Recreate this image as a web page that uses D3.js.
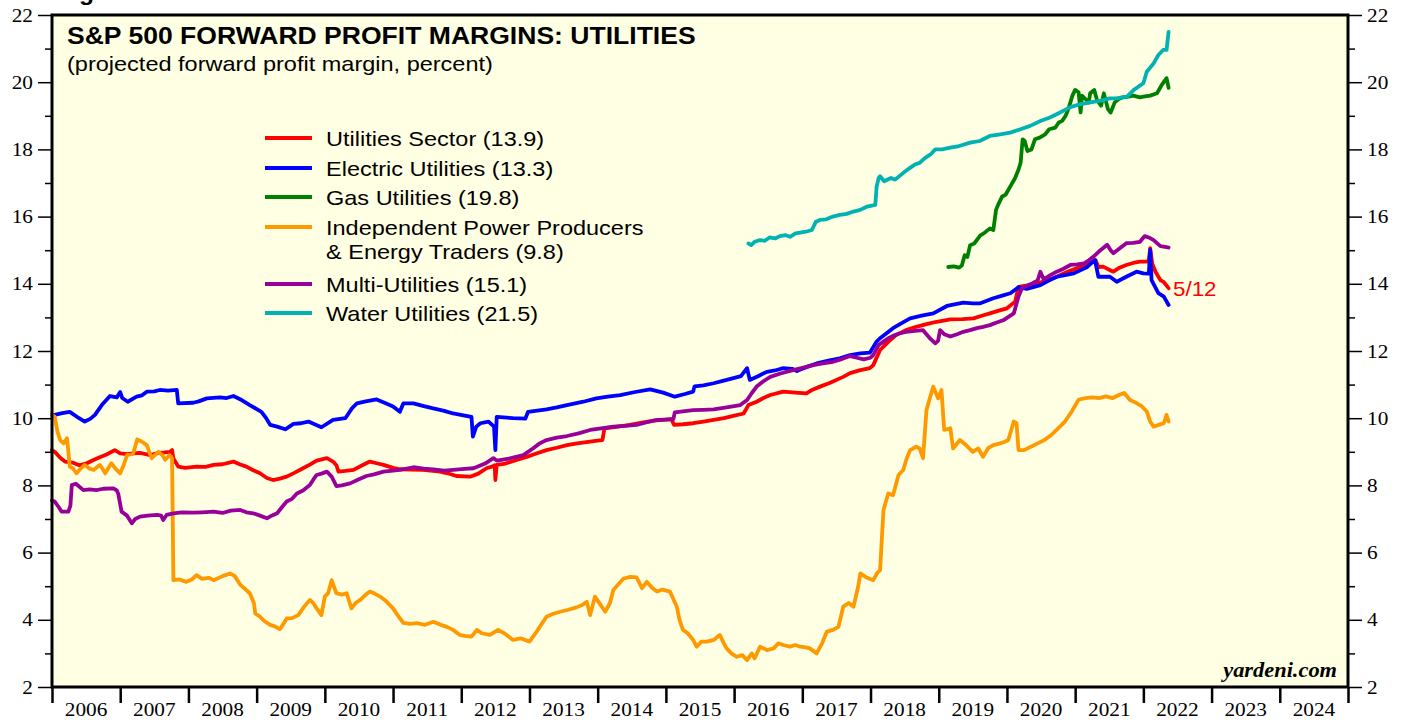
<!DOCTYPE html>
<html>
<head>
<meta charset="utf-8">
<script src="https://cdn.jsdelivr.net/npm/d3@7"></script>
<style>
  body { margin: 0; background: #fff; }
  svg { display: block; }
</style>
</head>
<body>
<div id="chart"></div>
<script>
// values, [decimal year, percent]
const utilitiesSector = [[2006.00,9.05],[2006.04,9.0],[2006.12,8.82],[2006.19,8.71],[2006.3,8.68],[2006.4,8.6],[2006.51,8.66],[2006.6,8.75],[2006.70,8.84],[2006.8,8.92],[2006.92,9.05],[2007.0,8.95],[2007.1,8.93],[2007.2,8.95],[2007.29,8.97],[2007.44,8.9],[2007.55,8.96],[2007.65,8.98],[2007.73,9.0],[2007.76,9.05],[2007.78,8.8],[2007.85,8.56],[2007.95,8.52],[2008.12,8.56],[2008.25,8.55],[2008.37,8.61],[2008.5,8.63],[2008.66,8.71],[2008.75,8.63],[2008.85,8.56],[2008.95,8.45],[2009.05,8.36],[2009.15,8.22],[2009.24,8.16],[2009.34,8.2],[2009.44,8.26],[2009.56,8.38],[2009.68,8.51],[2009.78,8.62],[2009.88,8.74],[2010.03,8.81],[2010.12,8.71],[2010.17,8.6],[2010.2,8.41],[2010.3,8.43],[2010.42,8.46],[2010.55,8.6],[2010.66,8.71],[2010.76,8.66],[2010.86,8.61],[2011.0,8.52],[2011.1,8.48],[2011.25,8.47],[2011.44,8.46],[2011.55,8.44],[2011.69,8.41],[2011.8,8.36],[2011.93,8.28],[2012.13,8.26],[2012.25,8.35],[2012.37,8.51],[2012.45,8.56],[2012.49,8.6],[2012.5,8.16],[2012.52,8.61],[2012.65,8.65],[2012.8,8.75],[2012.96,8.85],[2013.1,8.95],[2013.25,9.05],[2013.4,9.12],[2013.55,9.2],[2013.7,9.25],[2013.89,9.3],[2014.0,9.33],[2014.07,9.35],[2014.1,9.7],[2014.3,9.75],[2014.47,9.8],[2014.65,9.87],[2014.82,9.93],[2015.08,9.97],[2015.12,9.8],[2015.25,9.82],[2015.4,9.85],[2015.55,9.9],[2015.7,9.95],[2015.85,10.0],[2015.99,10.07],[2016.14,10.14],[2016.21,10.39],[2016.33,10.49],[2016.43,10.6],[2016.53,10.69],[2016.72,10.79],[2016.9,10.76],[2017.06,10.74],[2017.15,10.85],[2017.26,10.94],[2017.4,11.05],[2017.6,11.23],[2017.7,11.34],[2017.85,11.43],[2017.99,11.49],[2018.04,11.58],[2018.14,12.03],[2018.19,12.13],[2018.29,12.33],[2018.38,12.48],[2018.52,12.62],[2018.67,12.72],[2018.82,12.8],[2018.97,12.87],[2019.17,12.94],[2019.35,12.95],[2019.51,12.97],[2019.63,13.05],[2019.75,13.12],[2019.88,13.2],[2020.0,13.27],[2020.12,13.47],[2020.17,13.91],[2020.3,13.95],[2020.44,14.01],[2020.58,14.1],[2020.73,14.21],[2020.88,14.35],[2021.02,14.46],[2021.12,14.55],[2021.22,14.61],[2021.3,14.7],[2021.34,14.5],[2021.41,14.51],[2021.5,14.42],[2021.56,14.36],[2021.65,14.48],[2021.75,14.56],[2021.85,14.62],[2021.95,14.66],[2022.05,14.66],[2022.08,14.7],[2022.1,15.06],[2022.13,14.6],[2022.18,14.35],[2022.25,14.11],[2022.3,14.05],[2022.37,13.87]];

const electricUtilities = [[2006.0,10.1],[2006.04,10.1],[2006.15,10.15],[2006.26,10.19],[2006.36,10.05],[2006.48,9.9],[2006.56,9.98],[2006.63,10.1],[2006.73,10.39],[2006.85,10.66],[2006.95,10.62],[2007.0,10.78],[2007.03,10.6],[2007.11,10.49],[2007.24,10.64],[2007.32,10.68],[2007.39,10.79],[2007.5,10.8],[2007.58,10.84],[2007.7,10.82],[2007.83,10.84],[2007.85,10.44],[2008.07,10.46],[2008.15,10.5],[2008.27,10.59],[2008.46,10.62],[2008.56,10.6],[2008.66,10.66],[2008.78,10.54],[2008.9,10.39],[2009.07,10.19],[2009.14,10.0],[2009.2,9.8],[2009.3,9.75],[2009.42,9.67],[2009.54,9.83],[2009.65,9.85],[2009.76,9.9],[2009.85,9.82],[2009.95,9.73],[2010.12,9.95],[2010.3,10.0],[2010.4,10.3],[2010.47,10.44],[2010.6,10.5],[2010.76,10.56],[2010.9,10.44],[2011.0,10.35],[2011.1,10.19],[2011.15,10.44],[2011.3,10.44],[2011.45,10.36],[2011.59,10.29],[2011.75,10.22],[2011.88,10.14],[2012.05,10.08],[2012.15,10.04],[2012.17,9.45],[2012.22,9.75],[2012.28,9.85],[2012.4,9.9],[2012.48,9.75],[2012.5,9.05],[2012.52,10.04],[2012.57,10.03],[2012.76,10.0],[2012.94,9.99],[2012.98,10.19],[2013.25,10.26],[2013.4,10.32],[2013.55,10.39],[2013.79,10.49],[2013.98,10.59],[2014.15,10.64],[2014.33,10.69],[2014.55,10.78],[2014.77,10.86],[2014.96,10.76],[2015.13,10.64],[2015.28,10.72],[2015.4,10.79],[2015.42,10.95],[2015.55,10.98],[2015.7,11.04],[2015.85,11.12],[2015.99,11.19],[2016.1,11.25],[2016.19,11.49],[2016.23,11.14],[2016.35,11.25],[2016.48,11.38],[2016.6,11.42],[2016.72,11.49],[2016.85,11.47],[2016.92,11.4],[2016.97,11.45],[2017.1,11.55],[2017.21,11.63],[2017.4,11.72],[2017.55,11.78],[2017.7,11.88],[2017.85,11.93],[2017.99,11.95],[2018.09,12.28],[2018.14,12.38],[2018.33,12.68],[2018.45,12.82],[2018.58,12.97],[2018.75,13.05],[2018.92,13.12],[2019.12,13.34],[2019.36,13.44],[2019.5,13.42],[2019.61,13.42],[2019.8,13.57],[2019.92,13.64],[2020.05,13.72],[2020.17,13.9],[2020.29,13.85],[2020.49,13.96],[2020.6,14.08],[2020.73,14.21],[2020.85,14.26],[2020.98,14.31],[2021.17,14.49],[2021.29,14.71],[2021.34,14.21],[2021.51,14.21],[2021.61,14.06],[2021.75,14.21],[2021.9,14.36],[2022.0,14.31],[2022.08,14.3],[2022.1,15.01],[2022.12,14.11],[2022.22,13.72],[2022.3,13.62],[2022.37,13.37]];

const gasUtilities = [[2019.14,14.5],[2019.22,14.52],[2019.3,14.48],[2019.34,14.55],[2019.38,14.85],[2019.42,14.8],[2019.46,15.15],[2019.52,15.2],[2019.61,15.44],[2019.66,15.5],[2019.75,15.65],[2019.8,15.6],[2019.84,16.2],[2019.87,16.35],[2019.93,16.6],[2019.98,16.65],[2020.05,16.9],[2020.12,17.15],[2020.17,17.4],[2020.2,17.6],[2020.23,18.3],[2020.26,18.25],[2020.3,17.95],[2020.36,18.0],[2020.41,18.3],[2020.48,18.35],[2020.56,18.45],[2020.62,18.6],[2020.71,18.65],[2020.76,18.8],[2020.81,18.85],[2020.86,19.0],[2020.9,19.2],[2020.96,19.6],[2021.0,19.77],[2021.05,19.7],[2021.08,19.1],[2021.1,19.6],[2021.15,19.5],[2021.2,19.4],[2021.22,19.67],[2021.28,19.77],[2021.32,19.47],[2021.38,19.3],[2021.42,19.67],[2021.48,19.2],[2021.52,19.1],[2021.58,19.4],[2021.64,19.5],[2021.7,19.55],[2021.78,19.57],[2021.85,19.6],[2021.95,19.55],[2022.0,19.57],[2022.1,19.6],[2022.2,19.67],[2022.27,19.92],[2022.34,20.12],[2022.37,19.83]];

const powerProducers = [[2006.0,10.1],[2006.04,10.04],[2006.08,9.6],[2006.12,9.35],[2006.17,9.25],[2006.22,9.4],[2006.24,9.0],[2006.26,8.56],[2006.31,8.5],[2006.36,8.36],[2006.42,8.5],[2006.48,8.61],[2006.55,8.5],[2006.61,8.46],[2006.7,8.61],[2006.74,8.5],[2006.78,8.36],[2006.87,8.66],[2006.93,8.5],[2007.0,8.36],[2007.05,8.6],[2007.1,8.9],[2007.19,8.95],[2007.25,9.37],[2007.32,9.3],[2007.39,9.2],[2007.46,8.81],[2007.56,9.0],[2007.62,8.9],[2007.66,8.76],[2007.72,8.9],[2007.75,8.85],[2007.76,8.8],[2007.78,5.18],[2007.87,5.2],[2007.97,5.13],[2008.05,5.2],[2008.12,5.33],[2008.2,5.22],[2008.3,5.25],[2008.37,5.18],[2008.5,5.3],[2008.61,5.38],[2008.68,5.3],[2008.76,5.04],[2008.84,4.9],[2008.9,4.79],[2008.96,4.5],[2008.98,4.19],[2009.05,4.09],[2009.12,3.95],[2009.2,3.85],[2009.27,3.8],[2009.34,3.72],[2009.4,3.9],[2009.44,4.04],[2009.52,4.05],[2009.61,4.14],[2009.7,4.4],[2009.78,4.59],[2009.83,4.5],[2009.88,4.34],[2009.95,4.14],[2010.0,4.69],[2010.05,4.8],[2010.1,5.18],[2010.14,4.95],[2010.17,4.79],[2010.25,4.75],[2010.32,4.79],[2010.39,4.34],[2010.45,4.5],[2010.52,4.59],[2010.6,4.75],[2010.66,4.84],[2010.73,4.78],[2010.81,4.69],[2010.9,4.55],[2011.0,4.34],[2011.08,4.1],[2011.15,3.91],[2011.25,3.88],[2011.35,3.9],[2011.47,3.85],[2011.59,3.94],[2011.7,3.85],[2011.79,3.79],[2011.88,3.7],[2011.98,3.55],[2012.05,3.52],[2012.15,3.5],[2012.23,3.7],[2012.3,3.6],[2012.42,3.55],[2012.54,3.7],[2012.63,3.6],[2012.76,3.4],[2012.87,3.45],[2013.0,3.35],[2013.09,3.6],[2013.17,3.85],[2013.25,4.09],[2013.35,4.18],[2013.45,4.24],[2013.57,4.3],[2013.69,4.37],[2013.78,4.45],[2013.84,4.54],[2013.89,4.14],[2013.96,4.69],[2014.04,4.45],[2014.11,4.24],[2014.18,4.5],[2014.23,4.89],[2014.3,5.05],[2014.38,5.23],[2014.48,5.28],[2014.57,5.26],[2014.65,4.94],[2014.72,5.13],[2014.8,4.95],[2014.87,4.84],[2014.95,4.9],[2015.06,4.84],[2015.16,4.39],[2015.2,4.0],[2015.25,3.7],[2015.32,3.6],[2015.4,3.4],[2015.45,3.2],[2015.52,3.35],[2015.6,3.35],[2015.7,3.4],[2015.79,3.55],[2015.85,3.3],[2015.89,3.15],[2015.96,3.0],[2016.04,2.9],[2016.12,2.95],[2016.19,2.8],[2016.26,3.0],[2016.3,2.85],[2016.38,3.2],[2016.48,3.1],[2016.58,3.15],[2016.65,3.3],[2016.72,3.25],[2016.82,3.2],[2016.9,3.25],[2016.97,3.2],[2017.05,3.18],[2017.11,3.15],[2017.21,3.0],[2017.29,3.3],[2017.36,3.65],[2017.45,3.7],[2017.53,3.79],[2017.6,4.39],[2017.68,4.5],[2017.75,4.39],[2017.82,5.0],[2017.85,5.38],[2017.95,5.25],[2018.04,5.18],[2018.1,5.4],[2018.14,5.48],[2018.19,7.27],[2018.26,7.76],[2018.33,7.71],[2018.41,8.31],[2018.48,8.46],[2018.53,8.8],[2018.58,9.05],[2018.67,9.15],[2018.72,9.1],[2018.77,8.81],[2018.82,10.24],[2018.87,10.6],[2018.92,10.94],[2018.99,10.59],[2019.04,10.84],[2019.08,9.65],[2019.17,9.7],[2019.21,9.1],[2019.31,9.35],[2019.4,9.2],[2019.5,9.0],[2019.58,9.1],[2019.65,8.85],[2019.72,9.1],[2019.8,9.2],[2019.9,9.25],[2019.97,9.3],[2020.02,9.35],[2020.1,9.9],[2020.14,9.85],[2020.17,9.05],[2020.25,9.05],[2020.35,9.15],[2020.45,9.25],[2020.55,9.35],[2020.65,9.5],[2020.75,9.7],[2020.85,9.9],[2020.95,10.2],[2021.05,10.55],[2021.15,10.6],[2021.25,10.62],[2021.35,10.6],[2021.45,10.65],[2021.55,10.6],[2021.65,10.7],[2021.72,10.75],[2021.8,10.55],[2021.9,10.45],[2021.98,10.35],[2022.05,10.2],[2022.1,9.9],[2022.15,9.75],[2022.22,9.8],[2022.3,9.85],[2022.34,10.1],[2022.37,9.9]];

const multiUtilities = [[2006.0,7.55],[2006.04,7.52],[2006.1,7.35],[2006.14,7.22],[2006.24,7.22],[2006.27,7.4],[2006.29,8.01],[2006.35,8.05],[2006.46,7.86],[2006.55,7.88],[2006.65,7.86],[2006.75,7.9],[2006.9,7.91],[2006.95,7.85],[2006.97,7.76],[2007.02,7.22],[2007.1,7.1],[2007.17,6.87],[2007.22,7.0],[2007.29,7.07],[2007.4,7.1],[2007.54,7.12],[2007.6,7.1],[2007.63,6.97],[2007.68,7.12],[2007.78,7.17],[2007.9,7.2],[2008.07,7.19],[2008.2,7.2],[2008.37,7.22],[2008.5,7.18],[2008.62,7.25],[2008.76,7.27],[2008.85,7.2],[2008.95,7.17],[2009.05,7.1],[2009.15,7.02],[2009.22,7.1],[2009.3,7.17],[2009.37,7.35],[2009.44,7.52],[2009.52,7.6],[2009.59,7.76],[2009.68,7.85],[2009.78,8.01],[2009.84,8.2],[2009.88,8.31],[2009.95,8.35],[2010.03,8.41],[2010.1,8.26],[2010.17,7.98],[2010.25,8.0],[2010.37,8.06],[2010.5,8.18],[2010.61,8.28],[2010.72,8.33],[2010.86,8.41],[2011.0,8.44],[2011.1,8.46],[2011.3,8.54],[2011.45,8.5],[2011.59,8.48],[2011.75,8.44],[2011.88,8.46],[2012.05,8.49],[2012.18,8.51],[2012.35,8.65],[2012.47,8.81],[2012.52,8.74],[2012.7,8.8],[2012.91,8.9],[2013.05,9.1],[2013.15,9.25],[2013.25,9.35],[2013.4,9.42],[2013.55,9.47],[2013.72,9.55],[2013.89,9.65],[2014.05,9.7],[2014.23,9.75],[2014.4,9.77],[2014.57,9.8],[2014.72,9.88],[2014.87,9.95],[2015.0,9.96],[2015.11,9.97],[2015.13,10.17],[2015.25,10.2],[2015.4,10.24],[2015.55,10.25],[2015.7,10.26],[2015.89,10.32],[2016.09,10.39],[2016.19,10.54],[2016.26,10.75],[2016.33,10.94],[2016.43,11.1],[2016.53,11.23],[2016.68,11.33],[2016.82,11.41],[2017.0,11.5],[2017.16,11.58],[2017.3,11.63],[2017.45,11.68],[2017.58,11.76],[2017.7,11.85],[2017.8,11.8],[2017.9,11.75],[2018.0,11.8],[2018.04,11.88],[2018.12,12.18],[2018.19,12.28],[2018.26,12.38],[2018.33,12.45],[2018.42,12.52],[2018.52,12.57],[2018.65,12.6],[2018.77,12.62],[2018.87,12.38],[2018.95,12.23],[2018.99,12.3],[2019.02,12.62],[2019.08,12.5],[2019.17,12.43],[2019.27,12.5],[2019.36,12.57],[2019.46,12.62],[2019.56,12.68],[2019.65,12.72],[2019.75,12.77],[2019.85,12.85],[2019.95,12.92],[2020.1,13.12],[2020.17,13.62],[2020.22,13.87],[2020.3,13.95],[2020.37,14.01],[2020.45,14.1],[2020.49,14.36],[2020.54,14.13],[2020.63,14.25],[2020.73,14.36],[2020.83,14.45],[2020.93,14.56],[2021.03,14.58],[2021.13,14.61],[2021.2,14.7],[2021.27,14.81],[2021.37,15.0],[2021.47,15.16],[2021.52,15.0],[2021.56,14.91],[2021.65,15.05],[2021.75,15.21],[2021.85,15.22],[2021.95,15.25],[2022.02,15.42],[2022.08,15.38],[2022.15,15.3],[2022.25,15.12],[2022.34,15.09],[2022.37,15.08]];

const waterUtilities = [[2016.21,15.2],[2016.25,15.15],[2016.3,15.25],[2016.38,15.3],[2016.45,15.28],[2016.52,15.38],[2016.6,15.35],[2016.67,15.42],[2016.75,15.45],[2016.82,15.4],[2016.9,15.5],[2016.97,15.52],[2017.05,15.55],[2017.14,15.6],[2017.2,15.85],[2017.26,15.9],[2017.35,15.92],[2017.45,16.0],[2017.55,16.05],[2017.65,16.08],[2017.75,16.15],[2017.85,16.2],[2017.95,16.3],[2018.07,16.35],[2018.09,16.9],[2018.12,17.15],[2018.14,17.2],[2018.2,17.05],[2018.3,17.15],[2018.36,17.1],[2018.45,17.25],[2018.51,17.35],[2018.58,17.45],[2018.65,17.55],[2018.72,17.6],[2018.8,17.75],[2018.88,17.85],[2018.95,18.0],[2019.05,18.0],[2019.17,18.05],[2019.3,18.1],[2019.46,18.2],[2019.6,18.25],[2019.75,18.4],[2019.9,18.45],[2020.05,18.5],[2020.2,18.6],[2020.34,18.7],[2020.5,18.85],[2020.63,18.95],[2020.78,19.1],[2020.93,19.26],[2021.08,19.35],[2021.22,19.4],[2021.38,19.45],[2021.51,19.52],[2021.6,19.52],[2021.76,19.57],[2021.86,19.77],[2022.0,19.97],[2022.05,20.31],[2022.15,20.56],[2022.22,20.81],[2022.29,20.96],[2022.34,20.96],[2022.37,21.5]];

const yearLabels = [2006, 2007, 2008, 2009, 2010, 2011, 2012, 2013, 2014, 2015, 2016, 2017, 2018, 2019, 2020, 2021, 2022, 2023, 2024];
const majorTicks = [2, 4, 6, 8, 10, 12, 14, 16, 18, 20, 22];
const minorTicks = [3, 5, 7, 9, 11, 13, 15, 17, 19, 21];

const series = [
    { label: ["Utilities Sector (13.9)"], data: utilitiesSector, color: "#ff0000" },
    { label: ["Electric Utilities (13.3)"], data: electricUtilities, color: "#0000ff" },
    { label: ["Gas Utilities (19.8)"], data: gasUtilities, color: "#008000" },
    { label: ["Independent Power Producers", "& Energy Traders (9.8)"], data: powerProducers, color: "#ff9900" },
    { label: ["Multi-Utilities (15.1)"], data: multiUtilities, color: "#990099" },
    { label: ["Water Utilities (21.5)"], data: waterUtilities, color: "#00b2b2" }
];

const width = 1407, height = 721;
const plotLeft = 52, plotRight = 1348, plotTop = 15, plotBottom = 687;
const sx = 1.12; // text in the reference is a bit wide

const x = d3.scaleLinear().domain([2006, 2025]).range([plotLeft, plotRight]);
const y = d3.scaleLinear().domain([2, 22]).range([plotBottom, plotTop]);

const svg = d3.select("#chart").append("svg")
    .attr("width", width)
    .attr("height", height);

// helper: text stretched horizontally
let addText = function (x0, y0, str, font, size, opts) {
    opts = opts || {};
    return svg.append("text")
        .attr("transform", "translate(" + x0 + "," + y0 + ") scale(" + sx + ",1)")
        .attr("text-anchor", opts.anchor || "start")
        .attr("font-family", font)
        .attr("font-size", size)
        .attr("font-weight", opts.weight || "normal")
        .attr("font-style", opts.style || "normal")
        .attr("fill", opts.fill || "#000")
        .text(str);
};

// plot background
svg.append("rect")
    .attr("x", plotLeft).attr("y", plotTop)
    .attr("width", plotRight - plotLeft).attr("height", plotBottom - plotTop)
    .attr("fill", "#ffffe3");

// y axes, left and right
const leftMajor = d3.axisLeft(y).tickValues(majorTicks).tickSize(14).tickFormat("");
const leftMinor = d3.axisLeft(y).tickValues(minorTicks).tickSize(7).tickFormat("");
const rightMajor = d3.axisRight(y).tickValues(majorTicks).tickSize(14).tickFormat("");
const rightMinor = d3.axisRight(y).tickValues(minorTicks).tickSize(7).tickFormat("");

[[leftMajor, plotLeft], [leftMinor, plotLeft], [rightMajor, plotRight], [rightMinor, plotRight]].forEach(function (a) {
    let g = svg.append("g").attr("transform", "translate(" + a[1] + ",0)").call(a[0]);
    g.select(".domain").remove();
    g.selectAll("line").attr("stroke", "#000").attr("stroke-width", 1.5);
});

const serif = "'Liberation Serif', 'Times New Roman', serif";
majorTicks.forEach(function (t) {
    addText(33, y(t) + 6.5, t, serif, 19, { anchor: "end" });
    addText(1367, y(t) + 6.5, t, serif, 19);
});

// x axis: year boundaries as ticks, labels centred in each year
const xAxis = d3.axisBottom(x)
    .tickValues(yearLabels.concat([2025]))
    .tickSize(16)
    .tickFormat("");
let xg = svg.append("g").attr("transform", "translate(0," + plotBottom + ")").call(xAxis);
xg.select(".domain").remove();
xg.selectAll("line").attr("stroke", "#000").attr("stroke-width", 2.5);

yearLabels.forEach(function (yr) {
    addText(x(yr + 0.5), 716, yr, serif, 19, { anchor: "middle" });
});

// lines
let line = d3.line()
    .x(function (d) { return x(d[0]); })
    .y(function (d) { return y(d[1]); });

svg.selectAll("path.series")
    .data(series)
    .enter()
    .append("path")
    .attr("class", "series")
    .attr("d", function (d) { return line(d.data); })
    .attr("fill", "none")
    .attr("stroke", function (d) { return d.color; })
    .attr("stroke-width", 3.8)
    .attr("stroke-linejoin", "round")
    .attr("stroke-linecap", "round");

// frame
svg.append("rect")
    .attr("x", plotLeft).attr("y", plotTop)
    .attr("width", plotRight - plotLeft).attr("height", plotBottom - plotTop)
    .attr("fill", "none")
    .attr("stroke", "#000")
    .attr("stroke-width", 3);

// titles (the figure caption sits mostly above the page edge, as in the source)
const sans = "'Liberation Sans', Arial, Helvetica, sans-serif";
addText(57, 0, "Figure 1.", sans, 22, { weight: "bold" });
addText(67, 44, "S&P 500 FORWARD PROFIT MARGINS: UTILITIES", sans, 23.7, { weight: "bold" });
addText(67, 71, "(projected forward profit margin, percent)", sans, 21);

// legend
const legendY = [138, 168, 197, 227, 284, 313];
series.forEach(function (s, i) {
    svg.append("line")
        .attr("x1", 265).attr("x2", 312)
        .attr("y1", legendY[i]).attr("y2", legendY[i])
        .attr("stroke", s.color)
        .attr("stroke-width", 3.8);
    s.label.forEach(function (txt, j) {
        addText(326, legendY[i] + 7.5 + j * 24, txt, sans, 21);
    });
});

// date label at end of utilities sector line
addText(1173, 296, "5/12", sans, 20, { fill: "#ff0000" });

addText(1337, 677, "yardeni.com", serif, 20, { anchor: "end", weight: "bold", style: "italic" });
</script>
</body>
</html>
